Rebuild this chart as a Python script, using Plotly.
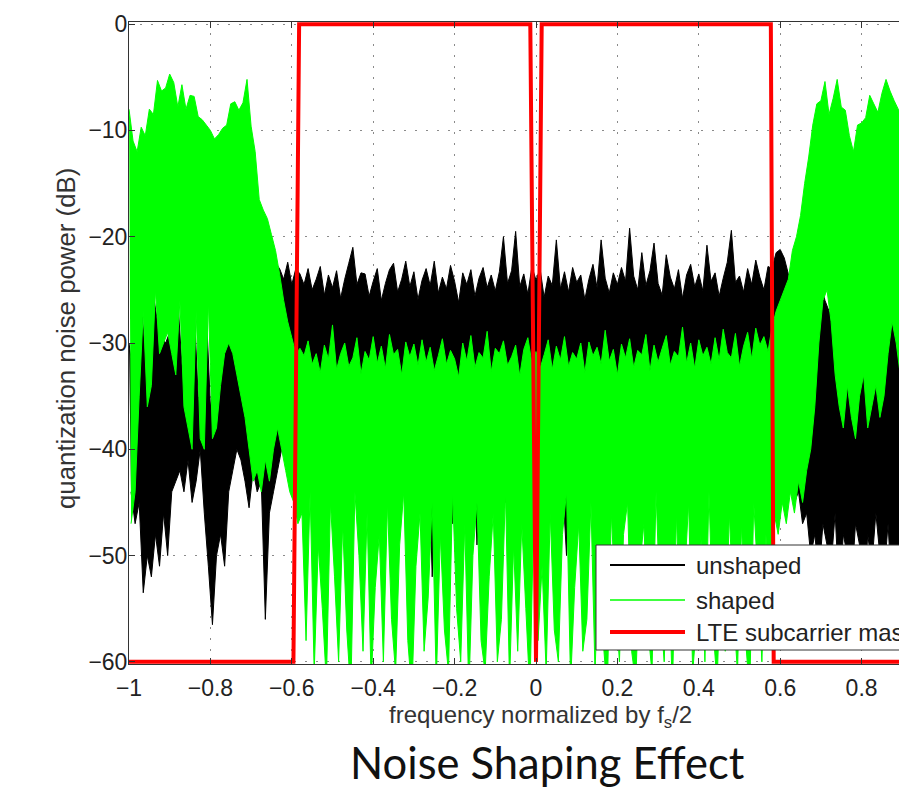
import plotly.graph_objects as go

# ---------------- data ----------------
# Local maxima sampled at f = -1.00, -0.99, ... ; local minima half a step later.
FREQ_START = -1.0
FREQ_STEP = 0.01

shaped_peak = (
    [-8, -11, -12, -9.7, -10.5, -8, -8.5, -5.3, -6.3, -6,
     -4.7, -5.5, -7.8, -5.7, -8, -6.7, -6.8, -8.7, -9, -9.5,
     -10, -10.8, -10.4, -9.8, -9.5, -7.5, -7.3, -8.1, -7.4, -5.2,
     -9.6, -12, -16.5, -17.5, -18.3, -19.8, -21.3, -23.5, -26, -28,
     -29.5, -31]
    + [-30.5, -31.2, -29.8, -32.0, -31.0, -32.8, -30.2, -31.5, -28.3, -32.5,
       -31.0, -30.0, -32.2, -31.4, -29.5, -32.9, -30.8, -31.6, -29.4, -31.9,
       -30.3, -32.4, -29.2, -31.1, -30.6, -33.0, -29.9, -31.3, -30.1, -32.1,
       -29.7, -31.8, -30.4, -32.6, -31.2, -29.6, -32.0, -30.7, -31.5, -33.2,
       -30.0, -31.7, -29.3, -32.3, -30.9, -31.4, -28.9, -32.7, -30.5, -31.0,
       -29.8, -32.1, -31.3, -30.2, -33.1, -30.6, -29.5, -31.9, -30.8, -32.4,
       -31.1, -29.7, -32.5, -30.3, -31.6, -29.4, -32.2, -30.9, -31.5, -30.0,
       -32.8, -29.9, -31.2, -30.4, -32.0, -28.8, -31.7, -30.6, -33.0, -30.1,
       -31.4, -29.6, -32.3, -30.7, -31.1, -29.2, -32.6, -30.2, -31.8, -30.5,
       -29.3, -32.1, -30.8, -31.3, -28.5, -31.9, -30.0, -32.4, -29.7, -31.2,
       -30.4, -32.0, -29.5, -31.6, -28.7, -30.9, -31.4, -29.1, -32.2, -30.3,
       -29.0, -31.5, -28.6, -30.2, -29.4, -30.8]
    + [-28.5, -27, -26, -25, -24, -21.3, -20, -18, -15, -12.5,
       -9.5, -7.5, -7.2, -5.4, -8.5, -7, -5.2, -7.8, -8.1, -10.5,
       -12, -9.5, -9.3, -8.8, -6.7, -7.5, -8.3, -6.5, -5.2, -6.3,
       -7.2, -8, -8.7, -8.5, -9]
)

shaped_trough = (
    [-47, -44, -35, -27, -36, -34, -25, -31, -30, -29,
     -31, -33, -26, -36, -38, -40, -27, -39, -40, -26,
     -39, -38, -34, -31, -30, -31, -33, -35, -37, -40,
     -43, -42, -44, -41, -43, -40, -38, -40, -42, -44,
     -45, -47]
    + [-46, -58, -44, -61, -49, -55, -62, -45, -52, -60,
       -47, -57, -63, -44, -50, -59, -46, -62, -53, -48,
       -60, -45, -56, -61, -49, -44, -58, -63, -51, -46,
       -59, -54, -45, -62, -48, -57, -61, -44, -55, -60,
       -47, -63, -50, -45, -58, -61, -52, -46, -60, -56,
       -44, -62, -49, -59, -47, -55, -63, -45, -58, -51,
       -61, -46, -57, -60, -48, -44, -62, -53, -47, -59,
       -56, -45, -61, -50, -58, -63, -46, -54, -60, -48,
       -45, -59, -62, -51, -47, -57, -61, -44, -55, -60,
       -49, -63, -46, -58, -52, -45, -61, -56, -48, -60,
       -44, -57, -62, -50, -59, -46, -55, -61, -47, -58,
       -63, -45, -52, -60, -48, -56]
    + [-46, -48, -45, -47, -44, -46, -43, -45, -42, -40,
       -36, -30, -26, -25, -28, -33, -36, -38, -34, -37,
       -39, -35, -33, -38, -36, -34, -37, -35, -31, -28,
       -30, -33, -29, -32, -30]
)

unshaped_peak = (
    [-30, -33, -28, -26, -31, -29, -25.5, -28, -29.5, -30,
     -29, -31, -26, -32, -34, -36, -26.5, -35, -37, -27,
     -36, -34, -31, -30, -29.5, -30, -31, -32, -33, -34,
     -32, -30, -28, -27, -25, -24, -22.5, -23, -24, -22.4,
     -24.5, -23]
    + [-23.5, -24.5, -23, -25, -24, -22.8, -25.5, -23.6, -24.8, -23.2,
       -25.8, -24, -22.5, -21, -24.5, -23.4, -23.5, -25.6, -24.2, -23,
       -26, -24.4, -23.1, -22.5, -25.2, -24, -22.3, -24.7, -23.3, -25.9,
       -24.1, -23, -24.6, -22.3, -25.3, -23.8, -24.9, -22.7, -24.2, -26.2,
       -23.4, -24.5, -23.1, -25.6, -23.9, -22.9, -24.8, -23.6, -25.1, -23.3,
       -20, -24.4, -23.2, -19.5, -24.7, -23.5, -25.4, -22.8, -24.1, -23,
       -25.7, -23.7, -24.6, -20.3, -24.9, -23.3, -25.2, -22.9, -24.3, -23.6,
       -25.9, -24, -22.6, -24.8, -20.3, -23.9, -25.3, -23.4, -24.5, -22.9,
       -24.2, -19.2, -23.7, -25, -21.5, -24.6, -23.2, -20.6, -24.4, -25.5,
       -21.7, -23.8, -24.9, -23.1, -25.8, -23.6, -22.6, -24.7, -23.5, -25.1,
       -20.8, -24.2, -23.4, -25.6, -23.9, -22.4, -19.4, -24.3, -23.7, -25.2,
       -23, -24.5, -22.2, -23.8, -25, -22.8]
    + [-23, -21.5, -21.2, -22, -23.5, -25, -26, -27, -26.5, -27.5,
       -26, -25, -24.5, -26, -27, -28, -29, -28, -27, -29,
       -30, -28, -27, -29, -28, -30, -28.5, -27, -26.5, -25.5,
       -27, -28, -26, -27.5, -28]
)

unshaped_trough = (
    [-44, -47, -45, -53.5, -50, -52, -48, -51, -46, -50,
     -44, -43, -42, -44, -41, -45, -43, -40, -46, -51,
     -56.5, -50, -48, -51, -44, -42, -40, -41, -43, -45.5,
     -42, -44, -43, -56, -46, -44, -42, -40, -41, -39,
     -40, -42]
    + [-38, -42, -36, -45, -40, -49, -37, -43, -39, -51,
       -41, -36, -44, -38, -47, -40, -35, -43, -50, -39,
       -37, -42, -46, -38, -41, -36, -48, -40, -44, -37,
       -43, -39, -52, -41, -36, -45, -38, -47, -40, -42,
       -36, -44, -39, -49, -41, -37, -43, -46, -38, -40,
       -45, -37, -41, -51, -39, -36, -44, -40, -48, -38,
       -42, -37, -46, -39, -43, -50, -36, -41, -38, -47,
       -40, -44, -37, -42, -39, -48, -36, -45, -41, -38,
       -43, -50, -37, -40, -46, -39, -42, -36, -49, -41,
       -38, -44, -40, -37, -47, -41, -36, -43, -39, -45,
       -42, -37, -48, -40, -38, -44, -36, -46, -41, -39,
       -43, -37, -40, -45, -38, -41]
    + [-38, -40, -42, -39, -43, -45, -44, -47, -46, -50,
       -48, -52, -47, -49, -51, -46, -54, -48, -50, -53,
       -47, -49, -55, -48, -51, -46, -50, -52, -47, -54,
       -49, -51, -56, -48, -50]
)

mask_freq = [-1.0, -0.596, -0.582, -0.014, 0.0, 0.014, 0.577, 0.584, 1.0]
mask_db = [-60, -60, 0, 0, -60, 0, 0, -60, -60]

x_tick_vals = [-1, -0.8, -0.6, -0.4, -0.2, 0, 0.2, 0.4, 0.6, 0.8]
x_tick_text = ["\u22121", "\u22120.8", "\u22120.6", "\u22120.4", "\u22120.2",
               "0", "0.2", "0.4", "0.6", "0.8"]
y_tick_vals = [0, -10, -20, -30, -40, -50, -60]
y_tick_text = ["0", "\u221210", "\u221220", "\u221230", "\u221240", "\u221250", "\u221260"]

legend_names = ["unshaped", "shaped", "LTE subcarrier mask"]


def grid(values, offset):
    return [FREQ_START + FREQ_STEP * (i + offset) for i in range(len(values))]


# ---------------- layout geometry ----------------
# The page body adds an 8px margin; the figure is sized to fit inside it.
OFF = 8
W, H = 907 - 2 * OFF, 797 - 2 * OFF
L, T = 129 - OFF, 22 - OFF
PW, PH = W - L, 642
X_PER_UNIT = 407.0


def pxx(px):
    """page x pixel of the reference -> paper fraction"""
    return (px - OFF - L) / PW


def pxy(py):
    """page y pixel of the reference -> paper fraction"""
    return (T + PH - (py - OFF)) / PH


FONT = "Liberation Sans, Arial, Helvetica, sans-serif"
BLACK = "#000000"
GREEN = "#00ff00"
RED = "#ff0000"

fig = go.Figure()


def add_band(peaks, troughs, color, name):
    # the dense noise trace: its local maxima and minima, with the space between filled
    fig.add_trace(go.Scatter(x=grid(peaks, 0.0), y=peaks, mode="lines", name=name,
                             line=dict(color=color, width=1, simplify=False),
                             hoverinfo="skip"))
    fig.add_trace(go.Scatter(x=grid(troughs, 0.5), y=troughs, mode="lines", name=name,
                             fill="tonexty", fillcolor=color,
                             line=dict(color=color, width=1, simplify=False),
                             hoverinfo="skip"))


add_band(unshaped_peak, unshaped_trough, BLACK, legend_names[0])
add_band(shaped_peak, shaped_trough, GREEN, legend_names[1])
fig.add_trace(go.Scatter(x=mask_freq, y=mask_db, mode="lines", name=legend_names[2],
                         line=dict(color=RED, width=4),
                         hoverinfo="skip"))

axis_common = dict(
    ticks="inside", ticklen=6, tickcolor="#333", tickwidth=1,
    showline=True, linecolor="#333", linewidth=1,
    showgrid=True, gridcolor="#8a8a8a", gridwidth=1, griddash="2px,9px",
    zeroline=False, tickfont=dict(family=FONT, size=23, color="#222"),
)

fig.update_layout(
    width=W, height=H,
    margin=dict(l=L, r=0, t=T, b=H - T - PH, pad=0, autoexpand=False),
    paper_bgcolor="white", plot_bgcolor="white",
    showlegend=False,
    font=dict(family=FONT, color="#222"),
    xaxis=dict(range=[-1, -1 + PW / X_PER_UNIT], tickmode="array",
               tickvals=x_tick_vals, ticktext=x_tick_text, mirror="ticks",
               ticklabelstandoff=3, automargin=False, **axis_common),
    yaxis=dict(range=[-60.2, 0.2], tickmode="array",
               tickvals=y_tick_vals, ticktext=y_tick_text, mirror=False,
               ticklabelstandoff=-4, automargin=False, **axis_common),
)

# ---------------- manual legend (cut off at the right edge, as in the picture) ----------------
shapes = [dict(type="rect", xref="paper", yref="paper",
               x0=pxx(596), x1=pxx(940), y0=pxy(650), y1=pxy(545),
               fillcolor="white", line=dict(color="#333", width=1), layer="above")]
row_y = [565, 600, 632]
row_style = [(BLACK, 2), (GREEN, 1.5), (RED, 4)]
annotations = []
for name, ry, (col, wd) in zip(legend_names, row_y, row_style):
    shapes.append(dict(type="line", xref="paper", yref="paper",
                       x0=pxx(610), x1=pxx(685), y0=pxy(ry), y1=pxy(ry),
                       line=dict(color=col, width=wd), layer="above"))
    annotations.append(dict(text=name, xref="paper", yref="paper",
                            x=pxx(694), y=pxy(ry), xanchor="left", yanchor="middle",
                            showarrow=False, font=dict(family=FONT, size=24, color="#222")))

# axis titles
annotations.append(dict(text="frequency normalized by f<sub>s</sub>/2",
                        xref="paper", yref="paper", x=pxx(540), y=pxy(716),
                        xanchor="center", yanchor="middle", showarrow=False,
                        font=dict(family=FONT, size=24, color="#333")))
annotations.append(dict(text="quantization noise power (dB)",
                        xref="paper", yref="paper", x=pxx(66), y=pxy(339),
                        xanchor="center", yanchor="middle", showarrow=False,
                        textangle=-90,
                        font=dict(family=FONT, size=25.8, color="#333")))
# caption
annotations.append(dict(text="Noise Shaping Effect",
                        xref="paper", yref="paper", x=pxx(547), y=pxy(762),
                        xanchor="center", yanchor="middle", showarrow=False,
                        font=dict(family="Lato, Open Sans, sans-serif", size=43.5, color="#111")))

fig.update_layout(shapes=shapes, annotations=annotations)

fig.write_html("out.html")
